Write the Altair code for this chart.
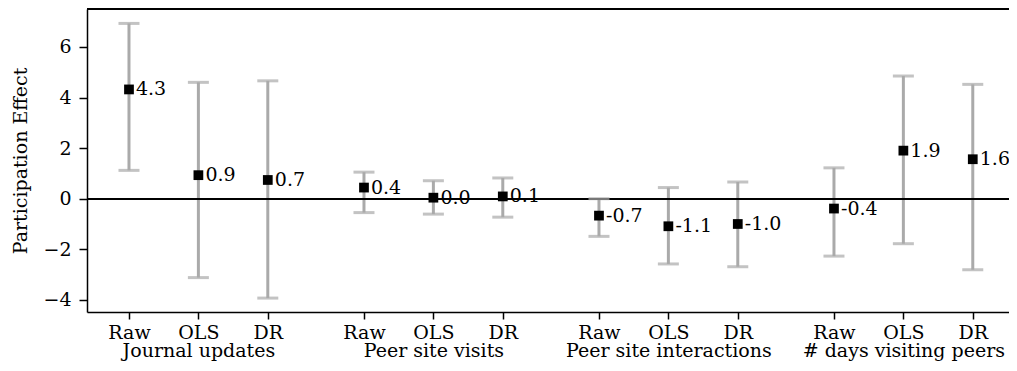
import json
import altair as alt
import pandas as pd

groups = ["Journal updates", "Peer site visits", "Peer site interactions", "# days visiting peers"]
methods = ["Raw", "OLS", "DR"]
effect = [4.32, 0.93, 0.74, 0.44, 0.04, 0.09, -0.67, -1.09, -1.00, -0.39, 1.90, 1.56]
ci_low = [1.12, -3.12, -3.93, -0.55, -0.61, -0.73, -1.49, -2.58, -2.69, -2.27, -1.78, -2.81]
ci_high = [6.93, 4.60, 4.66, 1.05, 0.71, 0.82, 0.00, 0.44, 0.66, 1.22, 4.85, 4.52]
y_ticks = [-4, -2, 0, 2, 4, 6]

GROUP_STEP = 3.386
W, H = 922, 303
FONT = "DejaVu Serif"
FS = 19

rows = []
for gi, g in enumerate(groups):
    for mi, m in enumerate(methods):
        i = gi * 3 + mi
        rows.append(dict(pos=gi * GROUP_STEP + mi, group=g, method=m,
                         effect=effect[i], lo=ci_low[i], hi=ci_high[i],
                         label=f"{effect[i]:.1f}"))
df = pd.DataFrame(rows)

positions = df["pos"].tolist()
tick_labels = [[m, g] if m == "OLS" else m for g, m in zip(df["group"], df["method"])]
label_expr = f"{json.dumps(tick_labels)}[indexof({json.dumps(positions)}, datum.value)]"

xs = alt.Scale(domain=[-0.605, 12.68], nice=False, zero=False)
ys = alt.Scale(domain=[-4.48, 7.5], nice=False, zero=False)

x_axis = alt.Axis(values=positions, labelExpr=label_expr, grid=False, title=None,
                  labelAngle=0, labelAlign="center", labelBaseline="top",
                  labelOverlap=False, labelBound=False, labelLimit=500,
                  labelLineHeight=18, labelPadding=4, tickSize=7)
y_axis = alt.Axis(values=y_ticks, grid=False, title="Participation Effect",
                  labelOverlap=False, tickSize=8, labelPadding=8, titlePadding=12)


def X(field):
    return alt.X(field, scale=xs, axis=x_axis)


def Y(field):
    return alt.Y(field, scale=ys, axis=y_axis)


base = alt.Chart(df)

bars = base.mark_rule(color="#aaaaaa", strokeWidth=3).encode(
    x=X("pos:Q"), y=Y("lo:Q"), y2="hi:Q",
)

zero_line = base.mark_rule(color="black", strokeWidth=1.5).encode(
    y=alt.datum(0)
)

cap_lo = base.mark_tick(color="#aaaaaa", orient="horizontal", size=21, thickness=3).encode(
    x=X("pos:Q"), y=Y("lo:Q")
)
cap_hi = base.mark_tick(color="#aaaaaa", orient="horizontal", size=21, thickness=3).encode(
    x=X("pos:Q"), y=Y("hi:Q")
)

points = base.mark_square(color="black", size=95, opacity=1).encode(
    x=X("pos:Q"), y=Y("effect:Q")
)

labels = base.mark_text(align="left", baseline="middle", dx=7, font=FONT,
                        fontSize=FS, color="black").encode(
    x=X("pos:Q"), y=Y("effect:Q"), text="label:N",
)

top_spine = base.mark_rule(color="black", strokeWidth=1.5).encode(
    x=alt.value(0), x2=alt.value(W), y=alt.value(0)
)

chart = alt.layer(bars, zero_line, cap_lo, cap_hi, points, labels, top_spine).properties(
    width=W, height=H,
    autosize=alt.AutoSizeParams(type="none"),
    padding={"left": 79, "top": 1, "right": 0, "bottom": 51},
).configure_view(stroke=None).configure_axis(
    domainColor="black", domainWidth=1.5, tickColor="black", tickWidth=1.5,
    labelFont=FONT, labelFontSize=FS, labelColor="black",
    titleFont=FONT, titleFontSize=FS, titleFontWeight="normal", titleColor="black",
)

chart.save("out.html", embed_options={"renderer": "svg", "actions": False})
